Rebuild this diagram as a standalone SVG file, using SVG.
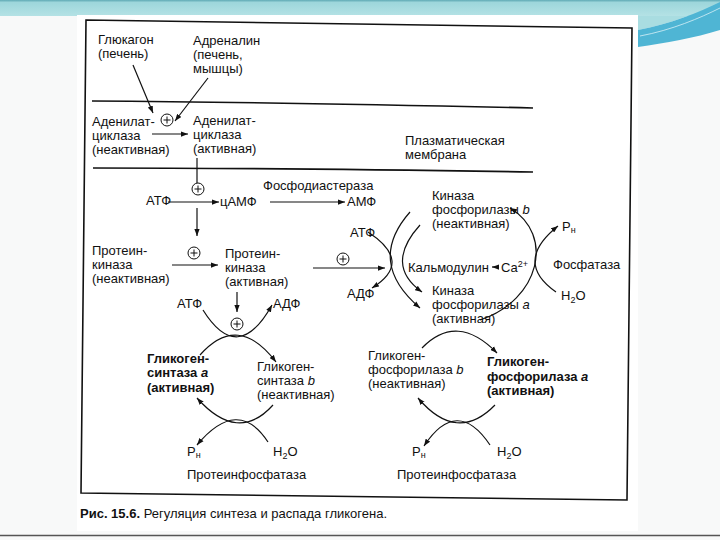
<svg xmlns="http://www.w3.org/2000/svg" width="720" height="540" viewBox="0 0 720 540">
<defs>
<linearGradient id="band" x1="0" y1="0" x2="0" y2="1">
<stop offset="0" stop-color="#5fa9b4"/>
<stop offset="0.15" stop-color="#9dd6db"/>
<stop offset="1" stop-color="#b4e2e5"/>
</linearGradient>
<marker id="ah" viewBox="0 0 8 6" refX="8" refY="3" markerWidth="7" markerHeight="5.5" markerUnits="userSpaceOnUse" orient="auto">
<path d="M0,0 L8,3 L0,6 z" fill="#111"/>
</marker>
<g id="plus">
<circle cx="0" cy="0" r="6" fill="#fff" stroke="#111" stroke-width="1"/>
<path d="M-3.5,0 H3.5 M0,-3.5 V3.5" stroke="#111" stroke-width="1"/>
</g>
</defs>
<style>
text{font-family:"Liberation Sans",Arial,sans-serif;font-size:13px;fill:#111}
.b{font-weight:bold}
.i{font-style:italic}
.sub{font-size:9px}
.ln{fill:none;stroke:#111;stroke-width:1.2}
.ar{fill:none;stroke:#111;stroke-width:1.2;marker-end:url(#ah)}
.mem{fill:none;stroke:#111;stroke-width:1.7}
</style>

<rect width="720" height="540" fill="#f8f9f9"/>
<rect x="0" y="0" width="720" height="16" fill="url(#band)"/>
<path d="M638,16 H720 V2 C700,12 670,24 638,30 Z" fill="#a9dde1"/>
<path d="M638,30 C670,24 700,12 720,2 L720,30 C695,38 665,43 638,47 Z" fill="#4fb5d4"/>
<path d="M640,36 C672,30 700,18 720,8" fill="none" stroke="#d8f0f6" stroke-width="0.8"/>
<rect x="77" y="15" width="561" height="516" fill="#ffffff"/>
<path d="M0,535.5 H720" stroke="#555" stroke-width="1.5"/>

<g id="frame">
<path d="M86,20 L632,28 L627,500 L81,493 Z" fill="none" stroke="#111" stroke-width="1.6"/>
</g>

<g id="membrane">
<path class="mem" d="M92,101 C250,102 400,105 533,108"/>
<path class="mem" d="M93,168 C250,168 400,170 533,172"/>
<text x="405" y="145">Плазматическая</text>
<text x="405" y="159">мембрана</text>
</g>

<g id="connectors">
<path class="ar" d="M133,65 L153,113"/>
<path class="ar" d="M208,78 L175,121"/>
<path class="ar" d="M152,134 L188,134"/>
<path class="ln" d="M197,158 L197,183"/>
<path class="ar" d="M168,202 L219,202"/>
<path class="ar" d="M270,202 L345,202"/>
<path class="ar" d="M197,208 L197,236"/>
<path class="ar" d="M172,265 L218,265"/>
<path class="ar" d="M237,292 L237,312"/>
<path class="ar" d="M313,268 L385,268"/>
<!-- synthase cycle -->
<path class="ar" d="M203,310 Q238,366 272,305"/>
<path class="ar" d="M200,355 Q238,312 276,362"/>
<path class="ar" d="M273,405 Q238,444 197,398"/>
<path class="ar" d="M268,442 Q238,396 197,445"/>
<!-- kinase cycle -->
<path class="ar" d="M368,232 Q414,262 372,288"/>
<path class="ar" d="M410,212 Q366,262 420,308"/>
<path class="ar" d="M420,225 Q384,265 422,292"/>
<path class="ar" d="M480,320 C540,300 555,235 510,208"/>
<path class="ar" d="M556,292 Q513,262 558,226"/>
<path class="ar" d="M499,267 L492,267"/>
<!-- phosphorylase cycle -->
<path class="ar" d="M422,348 Q457,312 497,353"/>
<path class="ar" d="M495,405 Q457,444 418,398"/>
<path class="ar" d="M490,445 Q457,396 424,446"/>
</g>

<g id="plus-signs">
<use href="#plus" x="167" y="120"/>
<use href="#plus" x="198" y="189"/>
<use href="#plus" x="194" y="253"/>
<use href="#plus" x="343" y="259"/>
<use href="#plus" x="237" y="324"/>
</g>

<g id="glucagon"><text x="98" y="44">Глюкагон</text><text x="98" y="58">(печень)</text></g>
<g id="adrenaline"><text x="193" y="45">Адреналин</text><text x="193" y="59">(печень,</text><text x="193" y="73">мышцы)</text></g>
<g id="ac-inactive"><text x="92" y="126">Аденилат-</text><text x="92" y="140">циклаза</text><text x="92" y="154">(неактивная)</text></g>
<g id="ac-active"><text x="193" y="125">Аденилат-</text><text x="193" y="139">циклаза</text><text x="193" y="153">(активная)</text></g>
<g id="atp1"><text x="146" y="205">АТФ</text></g>
<g id="camp"><text x="220" y="206">цАМФ</text></g>
<g id="pde"><text x="263" y="190">Фосфодиастераза</text></g>
<g id="amp"><text x="347" y="206">АМФ</text></g>
<g id="pk-inactive"><text x="92" y="255">Протеин-</text><text x="92" y="269">киназа</text><text x="92" y="283">(неактивная)</text></g>
<g id="pk-active"><text x="225" y="258">Протеин-</text><text x="225" y="272">киназа</text><text x="225" y="286">(активная)</text></g>
<g id="atp2"><text x="177" y="308">АТФ</text></g>
<g id="adp2"><text x="273" y="308">АДФ</text></g>
<g id="kin-b"><text x="432" y="200">Киназа</text><text x="432" y="214">фосфорилазы <tspan class="i">b</tspan></text><text x="432" y="228">(неактивная)</text></g>
<g id="atp3"><text x="350" y="237">АТФ</text></g>
<g id="adp3"><text x="347" y="298">АДФ</text></g>
<g id="calm"><text x="408" y="272">Кальмодулин</text><text x="501" y="272">Ca<tspan class="sub" dy="-5">2+</tspan></text></g>
<g id="kin-a"><text x="432" y="295">Киназа</text><text x="432" y="309">фосфорилазы <tspan class="i">a</tspan></text><text x="432" y="323">(активная)</text></g>
<g id="pn1"><text x="562" y="231">P<tspan class="sub" dy="2">н</tspan></text></g>
<g id="phosphatase"><text x="553" y="269">Фосфатаза</text></g>
<g id="h2o1"><text x="561" y="300">H<tspan class="sub" dy="3">2</tspan><tspan dy="-3">O</tspan></text></g>
<g id="gs-a"><text class="b" x="147" y="363">Гликоген-</text><text class="b" x="147" y="377">синтаза <tspan class="i">a</tspan></text><text class="b" x="147" y="392">(активная)</text></g>
<g id="gs-b"><text x="257" y="371">Гликоген-</text><text x="257" y="385">синтаза <tspan class="i">b</tspan></text><text x="257" y="399">(неактивная)</text></g>
<g id="pn2"><text x="187" y="456">P<tspan class="sub" dy="2">н</tspan></text></g>
<g id="h2o2"><text x="273" y="456">H<tspan class="sub" dy="3">2</tspan><tspan dy="-3">O</tspan></text></g>
<g id="ppase1"><text x="187" y="479">Протеинфосфатаза</text></g>
<g id="gp-b"><text x="368" y="360">Гликоген-</text><text x="368" y="374">фосфорилаза <tspan class="i">b</tspan></text><text x="368" y="388">(неактивная)</text></g>
<g id="gp-a"><text class="b" x="487" y="366">Гликоген-</text><text class="b" x="487" y="381">фосфорилаза <tspan class="i">a</tspan></text><text class="b" x="487" y="395">(активная)</text></g>
<g id="pn3"><text x="412" y="456">P<tspan class="sub" dy="2">н</tspan></text></g>
<g id="h2o3"><text x="497" y="456">H<tspan class="sub" dy="3">2</tspan><tspan dy="-3">O</tspan></text></g>
<g id="ppase2"><text x="397" y="479">Протеинфосфатаза</text></g>
<g id="caption"><text x="80" y="518"><tspan class="b">Рис. 15.6.</tspan> Регуляция синтеза и распада гликогена.</text></g>
</svg>
